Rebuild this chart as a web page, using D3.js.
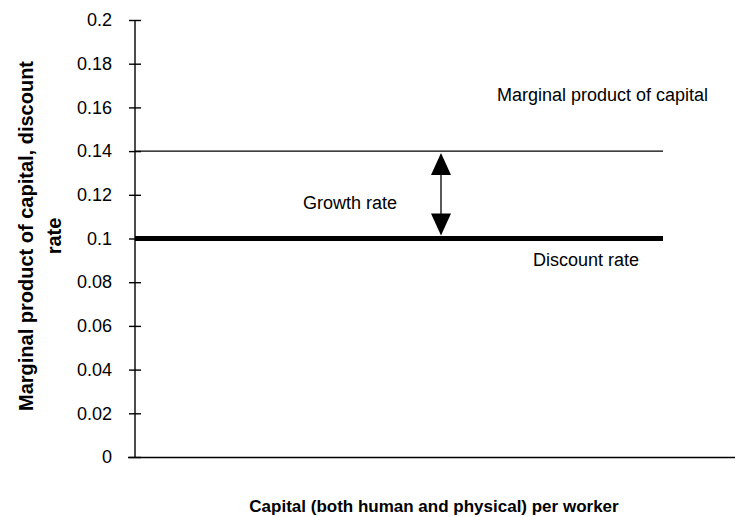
<!DOCTYPE html>
<html>
<head>
<meta charset="utf-8">
<script src="https://cdn.jsdelivr.net/npm/d3@7"></script>
<style>
  body { margin: 0; background: #fff; }
  text { font-family: "Liberation Sans", Arial, sans-serif; fill: #000; }
  .axis path, .axis line { stroke: #000; stroke-width: 1.4; }
  .axis text { font-size: 18px; font-family: "Liberation Sans", Arial, sans-serif; }
</style>
</head>
<body>
<svg id="chart" width="736" height="517"></svg>
<script>
// capital per worker (no units shown)
var capital = [0, 88];
var mpk = [0.14, 0.14];
var discount = [0.1, 0.1];
var yTicks = [0, 0.02, 0.04, 0.06, 0.08, 0.1, 0.12, 0.14, 0.16, 0.18, 0.2];
var arrowAt = 51;

var svg = d3.select('#chart');
var margin = { top: 20, right: 1, bottom: 60, left: 135 },
    width = +svg.attr('width') - margin.left - margin.right,
    height = +svg.attr('height') - margin.top - margin.bottom;

var g = svg.append('g')
  .attr('transform', 'translate(' + margin.left + ',' + margin.top + ')');

var x = d3.scaleLinear().domain([0, 100]).range([0, width]),
    y = d3.scaleLinear().domain([0, 0.2]).range([height, 0]);

var line = d3.line()
  .x(function(d) { return x(d.k); })
  .y(function(d) { return y(d.v); });

function pts(vals) {
  return capital.map(function(k, i) { return { k: k, v: vals[i] }; });
}

// axes
var yAxis = g.append('g')
  .attr('class', 'axis')
  .call(d3.axisLeft(y).tickValues(yTicks).tickSize(6).tickPadding(17)
    .tickFormat(function(d) { return String(+d.toFixed(2)); }));
yAxis.select('.domain').attr('d', 'M0,' + (height + 0.5) + 'V0.5');
yAxis.selectAll('.tick line').attr('x1', 6);
yAxis.selectAll('.tick text').attr('font-size', null).attr('font-family', null);

var xAxis = g.append('g')
  .attr('class', 'axis')
  .attr('transform', 'translate(0,' + height + ')')
  .call(d3.axisBottom(x).tickValues([]).tickSizeOuter(0));
xAxis.select('.domain').attr('d', 'M-7,0.5H' + width);

// lines
g.append('path')
  .attr('d', line(pts(mpk)))
  .attr('fill', 'none')
  .attr('stroke', '#000')
  .attr('stroke-width', 1.3);

g.append('path')
  .attr('d', line(pts(discount)))
  .attr('fill', 'none')
  .attr('stroke', '#000')
  .attr('stroke-width', 5);

// growth-rate arrow
var ax = x(arrowAt), yTop = y(mpk[0]) + 2, yBot = y(discount[0]) - 3, ah = 22, aw = 10;
g.append('line')
  .attr('x1', ax).attr('x2', ax)
  .attr('y1', yTop + ah - 2).attr('y2', yBot - ah + 2)
  .attr('stroke', '#000').attr('stroke-width', 1.3);
g.append('path')
  .attr('d', 'M' + ax + ',' + yTop + 'L' + (ax - aw) + ',' + (yTop + ah) + 'L' + (ax + aw) + ',' + (yTop + ah) + 'Z')
  .attr('fill', '#000');
g.append('path')
  .attr('d', 'M' + ax + ',' + yBot + 'L' + (ax - aw) + ',' + (yBot - ah) + 'L' + (ax + aw) + ',' + (yBot - ah) + 'Z')
  .attr('fill', '#000');

// labels
svg.append('text').attr('x', 497).attr('y', 101).style('font-size', '18px').text('Marginal product of capital');
svg.append('text').attr('x', 303).attr('y', 209).style('font-size', '18px').text('Growth rate');
svg.append('text').attr('x', 533).attr('y', 266).style('font-size', '18px').text('Discount rate');

svg.append('text')
  .attr('x', 434).attr('y', 512)
  .attr('text-anchor', 'middle')
  .style('font-size', '17px').style('font-weight', 'bold')
  .text('Capital (both human and physical) per worker');

var yt = svg.append('text')
  .attr('transform', 'translate(33,236) rotate(-90)')
  .attr('text-anchor', 'middle')
  .style('font-size', '20px').style('font-weight', 'bold');
yt.append('tspan').attr('x', 0).attr('dy', 0).text('Marginal product of capital, discount');
yt.append('tspan').attr('x', 0).attr('dy', 28).text('rate');
</script>
</body>
</html>
